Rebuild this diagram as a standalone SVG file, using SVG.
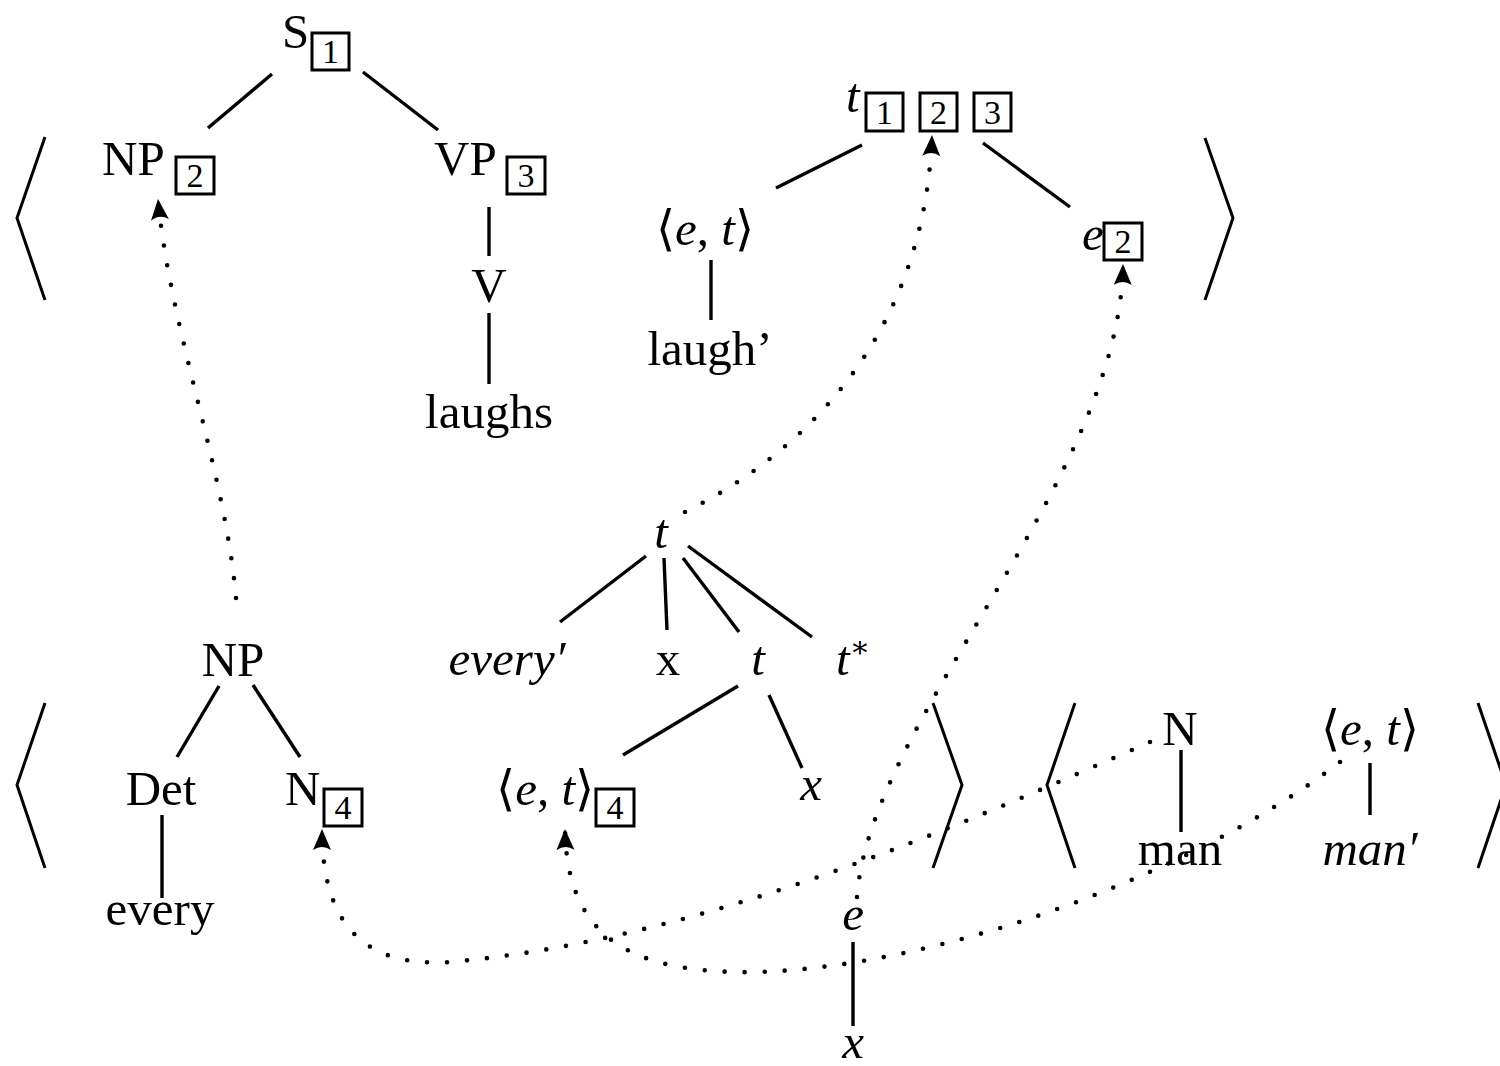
<svg xmlns="http://www.w3.org/2000/svg" width="1500" height="1066" viewBox="0 0 1500 1066">
<style>
text{font-family:"Liberation Serif","DejaVu Serif",serif;font-size:49px;fill:#000}
.it{font-style:italic}
.num{font-size:34px;text-anchor:middle}
.mid{text-anchor:middle}
.box{fill:none;stroke:#000;stroke-width:3}
.edge{stroke:#000;stroke-width:3.4;fill:none}
.br{stroke:#000;stroke-width:3;fill:none}
.dot{stroke:#000;stroke-width:4.6;fill:none;stroke-linecap:round;stroke-dasharray:0 20}
</style>
<defs>
<marker id="ah" markerUnits="userSpaceOnUse" markerWidth="26" markerHeight="20" refX="22" refY="9" orient="auto" overflow="visible">
<path d="M22 9 L1 0 Q7 9 1 18 Z" fill="#000"/>
</marker>
</defs>
<rect width="1500" height="1066" fill="#fff"/>

<g id="brackets">
<polyline class="br" points="45,137 17,218 45,300"/>
<polyline class="br" points="1205,138 1233,218 1205,300"/>
<polyline class="br" points="45,703 17,785 45,868"/>
<polyline class="br" points="933,703 962,785 933,868"/>
<polyline class="br" points="1075,703 1047,785 1075,868"/>
<polyline class="br" points="1478,703 1506,785 1478,868"/>
</g>

<g id="S1"><text x="282" y="48">S</text><rect class="box" x="312" y="33" width="37" height="37"/><text class="num" x="330.5" y="63">1</text></g>
<g id="NP2"><text x="102" y="175">NP</text><rect class="box" x="176" y="157" width="38" height="37"/><text class="num" x="195" y="187">2</text></g>
<g id="VP3"><text x="434" y="175">VP</text><rect class="box" x="507" y="157" width="38" height="37"/><text class="num" x="526" y="187">3</text></g>
<g id="V"><text class="mid" x="489" y="302">V</text></g>
<g id="laughs"><text class="mid" x="489" y="428">laughs</text></g>

<g id="t123"><text class="it" x="846" y="112">t</text>
<rect class="box" x="866" y="93" width="37" height="38"/><text class="num" x="884.5" y="124">1</text>
<rect class="box" x="920" y="93" width="37" height="38"/><text class="num" x="938.5" y="124">2</text>
<rect class="box" x="974" y="93" width="37" height="38"/><text class="num" x="992.5" y="124">3</text></g>
<g id="et-top"><text class="mid" x="705" y="245">⟨<tspan class="it">e</tspan>, <tspan class="it">t</tspan>⟩</text></g>
<g id="laughprime"><text class="mid" x="710" y="365">laugh’</text></g>
<g id="e2"><text class="it" x="1082" y="250">e</text><rect class="box" x="1104" y="223" width="38" height="37"/><text class="num" x="1123" y="253">2</text></g>

<g id="t-mid"><text class="it mid" x="661" y="548">t</text></g>
<g id="everyprime"><text class="it mid" x="507" y="675">every′</text></g>
<g id="x-rm"><text class="mid" x="668" y="675">x</text></g>
<g id="t-sub"><text class="it mid" x="758" y="675">t</text></g>
<g id="tstar"><text class="it" x="836" y="675">t<tspan font-style="normal" font-size="30" dy="-18">∗</tspan></text></g>
<g id="et4"><text x="496" y="805">⟨<tspan class="it">e</tspan>, <tspan class="it">t</tspan>⟩</text><rect class="box" x="596" y="789" width="38" height="37"/><text class="num" x="615" y="819">4</text></g>
<g id="x-it"><text class="it mid" x="811" y="800">x</text></g>

<g id="NP"><text class="mid" x="233" y="676">NP</text></g>
<g id="Det"><text class="mid" x="161" y="805">Det</text></g>
<g id="every"><text class="mid" x="160" y="925">every</text></g>
<g id="N4"><text x="285" y="805">N</text><rect class="box" x="324" y="789" width="38" height="37"/><text class="num" x="343" y="819">4</text></g>

<g id="e-bot"><text class="it mid" x="853" y="930">e</text></g>
<g id="x-bot"><text class="it mid" x="853" y="1058">x</text></g>

<g id="N-man"><text class="mid" x="1180" y="745">N</text></g>
<g id="et-man"><text class="mid" x="1370" y="745">⟨<tspan class="it">e</tspan>, <tspan class="it">t</tspan>⟩</text></g>
<g id="man"><text class="mid" x="1180" y="865">man</text></g>
<g id="manprime"><text class="it mid" x="1370" y="865">man′</text></g>

<g id="connectors">
<line class="edge" x1="272" y1="74" x2="208" y2="128"/>
<line class="edge" x1="363" y1="72" x2="438" y2="130"/>
<line class="edge" x1="489" y1="207" x2="489" y2="256"/>
<line class="edge" x1="489" y1="313" x2="489" y2="384"/>
<line class="edge" x1="862" y1="145" x2="776" y2="188"/>
<line class="edge" x1="983" y1="143" x2="1070" y2="207"/>
<line class="edge" x1="711" y1="260" x2="711" y2="320"/>
<line class="edge" x1="646" y1="556" x2="560" y2="622"/>
<line class="edge" x1="664" y1="558" x2="667" y2="630"/>
<line class="edge" x1="683" y1="558" x2="739" y2="632"/>
<line class="edge" x1="688" y1="546" x2="812" y2="637"/>
<line class="edge" x1="738" y1="686" x2="623" y2="755"/>
<line class="edge" x1="769" y1="695" x2="802" y2="768"/>
<line class="edge" x1="219" y1="686" x2="177" y2="757"/>
<line class="edge" x1="253" y1="685" x2="300" y2="757"/>
<line class="edge" x1="162" y1="815" x2="162" y2="898"/>
<line class="edge" x1="853" y1="942" x2="853" y2="1026"/>
<line class="edge" x1="1181" y1="750" x2="1181" y2="832"/>
<line class="edge" x1="1370" y1="763" x2="1370" y2="815"/>

<path class="dot" d="M236 598 C225 470 170 330 158 199" marker-end="url(#ah)"/>
<path class="dot" d="M685 512 C810 450 925 330 932 135" marker-end="url(#ah)"/>
<path class="dot" d="M857 897 C870 720 1120 480 1123 264" marker-end="url(#ah)"/>
<path class="dot" d="M1150 742 C950 830 700 940 450 962 C360 968 322 920 322 829" marker-end="url(#ah)"/>
<path class="dot" d="M1340 762 C1200 870 950 965 760 972 C620 975 567 930 565 829" marker-end="url(#ah)"/>
</g>
</svg>
